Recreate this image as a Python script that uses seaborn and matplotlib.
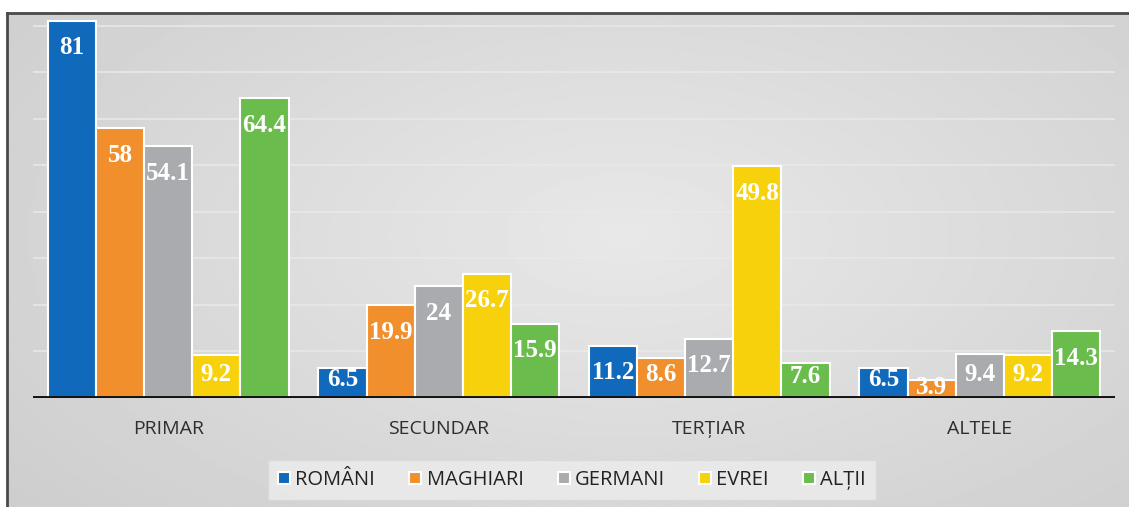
import numpy as np
import pandas as pd
import matplotlib.pyplot as plt
import seaborn as sns

sectors = ['PRIMAR', 'SECUNDAR', 'TERȚIAR', 'ALTELE']
groups = ['ROMÂNI', 'MAGHIARI', 'GERMANI', 'EVREI', 'ALȚII']
romani = [81, 6.5, 11.2, 6.5]
maghiari = [58, 19.9, 8.6, 3.9]
germani = [54.1, 24, 12.7, 9.4]
evrei = [9.2, 26.7, 49.8, 9.2]
altii = [64.4, 15.9, 7.6, 14.3]
colors = ['#1069bb', '#f28f2d', '#a9abae', '#f8d10d', '#6abd4c']

rows = []
for g, vals in zip(groups, [romani, maghiari, germani, evrei, altii]):
    for s, v in zip(sectors, vals):
        rows.append({'sector': s, 'grup': g, 'procent': v})
df = pd.DataFrame(rows)

sns.set_style('white')
plt.rcParams['font.family'] = ['Open Sans', 'DejaVu Sans']

fig = plt.figure(figsize=(11.29, 5.07), dpi=100)

# background panel with soft gradient and dark top/left border
bg = fig.add_axes([7 / 1129, 0, 1 - 7 / 1129, 1 - 13 / 507])
yy, xx = np.mgrid[0:1:200j, 0:1:400j]
r = np.sqrt(((xx - 0.55) / 0.75) ** 2 + ((yy - 0.45) / 0.9) ** 2)
grad = 0.91 - 0.11 * np.clip(r, 0, 1)
bg.imshow(grad, cmap='gray', vmin=0, vmax=1, aspect='auto', extent=[0, 1, 0, 1])
bg.set_xticks([])
bg.set_yticks([])
for side in ['right', 'bottom']:
    bg.spines[side].set_visible(False)
for side in ['top', 'left']:
    bg.spines[side].set_color('#4a4a4a')
    bg.spines[side].set_linewidth(2)

ax = fig.add_axes([33 / 1129, 109 / 507, 1082 / 1129, 384 / 507])
ax.patch.set_alpha(0)
sns.barplot(data=df, x='sector', y='procent', hue='grup', order=sectors,
            hue_order=groups, palette=colors, width=0.89, gap=0,
            edgecolor='white', linewidth=1.5, saturation=1, ax=ax, zorder=3)

ax.set_ylim(0, 82.5)
ax.set_xlim(-0.5, 3.5)
for y in range(10, 90, 10):
    ax.axhline(y, color='#e9e9e9', lw=1.1, zorder=1)
ax.axhline(0, color='#111111', lw=2.8, zorder=4)
for s in ax.spines.values():
    s.set_visible(False)
ax.set_yticks([])
ax.set_xlabel('')
ax.set_ylabel('')
ax.tick_params(axis='x', length=0, pad=16, labelsize=14, labelcolor='#2e2e2e')

for cont in ax.containers:
    for bar in cont:
        v = bar.get_height()
        ypos = max(v - 5.8, min(5.0, v * 0.6))
        ax.text(bar.get_x() + bar.get_width() / 2, ypos, f'{v:g}',
                ha='center', va='center', color='white', fontsize=18,
                fontweight='bold', family='Liberation Serif', zorder=5)

leg = ax.legend(loc='center', bbox_to_anchor=(572 / 1129, 27 / 507),
                bbox_transform=fig.transFigure, ncol=5, frameon=True,
                fontsize=14.5, handlelength=0.6, handleheight=0.6,
                handletextpad=0.25, columnspacing=1.7, borderpad=0.5,
                fancybox=False)
leg.get_frame().set_facecolor('#ededed')
leg.get_frame().set_edgecolor('#d8d8d8')
for t in leg.get_texts():
    t.set_color('#222222')

fig.savefig('out.png', dpi=100)
